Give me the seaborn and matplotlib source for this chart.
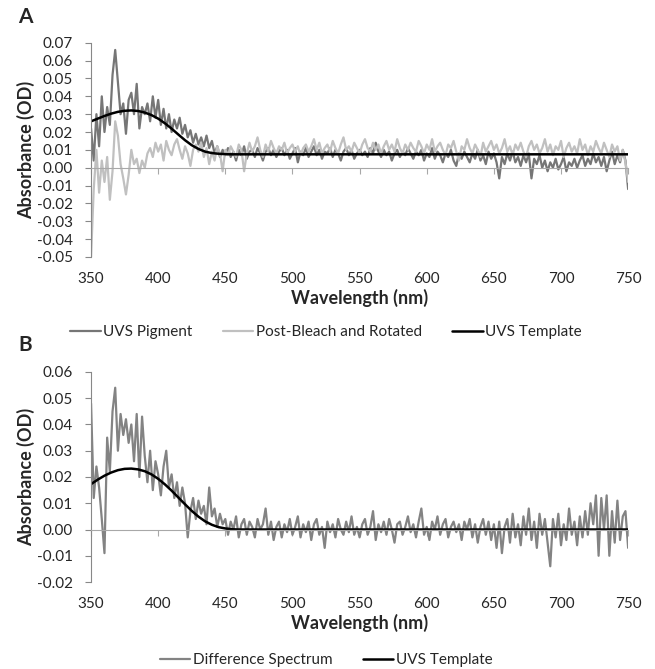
#UVS pigment absorbance spectra with seaborn
import seaborn as sns
import matplotlib.pyplot as plt
import numpy as np
import pandas as pd
from matplotlib.ticker import FormatStrFormatter

# wavelengths of the measured spectra (2 nm steps)
wavelength = list(range(350, 751, 2))

# panel A, dark grey
uvs_pigment = [
    0.022, 0.004, 0.030, 0.012, 0.040, 0.020, 0.034, 0.024, 0.052, 0.066,
    0.048, 0.030, 0.036, 0.019, 0.038, 0.042, 0.030, 0.047, 0.022, 0.034,
    0.030, 0.036, 0.026, 0.040, 0.028, 0.038, 0.024, 0.033, 0.022, 0.030,
    0.020, 0.027, 0.022, 0.028, 0.019, 0.024, 0.017, 0.021, 0.014, 0.019,
    0.013, 0.017, 0.012, 0.018, 0.011, 0.015, 0.008, 0.012, 0.006, 0.010,
    0.007, 0.011, 0.006, 0.009, 0.004, 0.010, 0.007, 0.012, 0.005, 0.009,
    0.010, 0.006, 0.011, 0.008, 0.004, 0.009, 0.011, 0.007, 0.010, 0.006,
    0.009, 0.011, 0.007, 0.010, 0.005, 0.008, 0.011, 0.003, 0.009, 0.007,
    0.011, 0.006, 0.009, 0.012, 0.007, 0.010, 0.005, 0.009, 0.008, 0.011,
    0.006, 0.010, 0.008, 0.004, 0.009, 0.011, 0.007, 0.010, 0.005, 0.008,
    0.010, 0.007, 0.009, 0.006, 0.011, 0.008, 0.014, 0.009, 0.006, 0.010,
    0.007, 0.009, 0.004, 0.008, 0.010, 0.006, 0.009, 0.007, 0.011, 0.008,
    0.005, 0.009, 0.007, 0.010, 0.004, 0.008, 0.006, 0.011, 0.005, 0.009,
    0.007, 0.003, 0.008, 0.006, 0.010, 0.004, 0.001, 0.008, 0.005, 0.009,
    0.006, 0.003, 0.008, 0.005, 0.010, 0.004, 0.007, 0.002, 0.009, 0.005,
    0.008, 0.003, -0.006, 0.006, 0.002, 0.008, 0.004, 0.009, 0.003, 0.006,
    0.001, 0.007, 0.003, 0.008, -0.006, 0.005, 0.002, 0.007, 0.000, 0.004,
    -0.002, 0.003, 0.000, 0.005, -0.001, 0.002, 0.006, -0.002, 0.003, 0.001,
    0.005, 0.000, 0.004, 0.007, 0.001, 0.005, 0.002, 0.008, 0.003, 0.006,
    0.001, 0.006, -0.002, 0.004, 0.009, 0.002, 0.007, 0.003, 0.010, 0.004,
    -0.012]

# panel A, light grey
post_bleach = [
    -0.050, -0.012, 0.010, -0.014, 0.004, -0.008, 0.006, -0.018, -0.002, 0.026,
    0.018, 0.002, -0.006, -0.015, -0.004, 0.010, 0.002, 0.005, -0.003, 0.004,
    0.000, 0.008, 0.011, 0.006, 0.014, 0.009, 0.013, 0.004, 0.015, 0.010,
    0.007, 0.013, 0.016, 0.010, 0.005, 0.012, 0.008, 0.001, 0.010, 0.013,
    0.009, 0.014, 0.006, 0.011, 0.002, 0.009, 0.004, 0.012, 0.008, -0.002,
    0.010, 0.007, 0.012, 0.009, 0.006, 0.013, 0.010, -0.002, 0.008, 0.014,
    0.009, 0.012, 0.017, 0.010, 0.006, 0.013, 0.009, 0.015, 0.011, 0.008,
    0.012, 0.010, 0.014, 0.008, 0.011, 0.013, 0.009, 0.012, 0.007, 0.011,
    0.013, 0.009, 0.012, 0.016, 0.010, 0.014, 0.008, 0.011, 0.013, 0.009,
    0.015, 0.011, 0.008, 0.013, 0.017, 0.010, 0.012, 0.009, 0.014, 0.011,
    0.008, 0.013, 0.016, 0.011, 0.009, 0.014, 0.010, 0.013, 0.008, 0.012,
    0.015, 0.010, 0.013, 0.009, 0.016, 0.011, 0.008, 0.013, 0.010, 0.014,
    0.011, 0.009, 0.015, 0.012, 0.008, 0.013, 0.010, 0.016, 0.009, 0.012,
    0.014, 0.010, 0.007, 0.013, 0.011, 0.015, 0.009, 0.004, 0.012, 0.010,
    0.016, 0.011, 0.008, 0.013, 0.010, 0.006, 0.014, 0.009, 0.012, 0.015,
    0.010, 0.013, 0.008, 0.011, 0.016, 0.009, 0.012, 0.007, 0.013, 0.010,
    0.014, 0.009, 0.006, 0.012, 0.015, 0.010, 0.013, 0.008, 0.011, 0.016,
    0.009, 0.013, 0.007, 0.012, 0.010, 0.015, 0.006, 0.011, 0.014, 0.009,
    0.012, 0.008, 0.016, 0.010, 0.013, 0.007, 0.012, 0.009, 0.015, 0.011,
    0.008, 0.014, 0.010, 0.006, 0.013, 0.009, 0.012, 0.004, 0.010, 0.003,
    -0.008]

# panel B
difference = [
    0.048, 0.012, 0.024, 0.016, 0.004, -0.009, 0.035, 0.022, 0.045, 0.054,
    0.030, 0.044, 0.036, 0.042, 0.033, 0.040, 0.026, 0.044, 0.020, 0.043,
    0.028, 0.018, 0.030, 0.015, 0.026, 0.021, 0.013, 0.024, 0.030, 0.016,
    0.021, 0.012, 0.018, 0.009, 0.016, 0.010, -0.003, 0.007, 0.012, 0.004,
    0.011, 0.006, 0.009, 0.002, 0.016, 0.005, 0.008, 0.001, 0.006, 0.002,
    0.004, -0.002, 0.003, 0.000, 0.005, -0.003, 0.002, 0.004, -0.002, 0.003,
    0.001, -0.003, 0.004, 0.000, 0.002, 0.008, -0.002, 0.003, -0.004, 0.001,
    0.003, -0.003, 0.002, -0.001, 0.004, -0.002, 0.001, 0.005, -0.003, 0.002,
    -0.001, 0.003, -0.004, 0.002, 0.004, -0.002, 0.001, -0.007, 0.003, -0.001,
    0.002, -0.003, 0.004, 0.000, -0.002, 0.003, -0.001, 0.005, -0.002, 0.001,
    -0.003, 0.002, 0.004, -0.002, 0.001, 0.007, -0.004, 0.002, -0.001, 0.003,
    -0.002, 0.004, 0.000, -0.005, 0.002, 0.003, -0.002, 0.001, 0.005, -0.001,
    0.002, -0.003, 0.003, 0.008, -0.002, 0.001, -0.004, 0.003, 0.000, 0.005,
    -0.002, 0.002, 0.004, -0.003, 0.001, 0.003, -0.001, 0.002, -0.004, 0.003,
    0.000, 0.004, -0.003, 0.002, -0.005, 0.001, 0.004, -0.002, 0.003, -0.004,
    0.002, -0.007, 0.003, -0.009, 0.001, 0.004, -0.005, 0.006, -0.003, 0.002,
    -0.006, 0.005, -0.002, 0.008, -0.004, 0.003, -0.007, 0.006, -0.002, 0.004,
    -0.005, -0.014, 0.004, -0.003, 0.006, -0.006, 0.002, -0.004, 0.008, -0.002,
    0.003, -0.006, 0.005, -0.003, 0.007, -0.002, 0.010, 0.002, 0.013, -0.010,
    0.012, 0.000, 0.013, -0.010, 0.007, -0.005, 0.011, -0.004, 0.005, 0.007,
    -0.007]

# smooth template curves
template_nm = [350, 355, 360, 365, 370, 375, 380, 385, 390, 395, 400, 405,
               410, 415, 420, 425, 430, 435, 440, 445, 450, 455, 460, 750]
template_a = [0.0260, 0.0275, 0.0290, 0.0303, 0.0313, 0.0319, 0.0321, 0.0318,
              0.0309, 0.0295, 0.0275, 0.0249, 0.0219, 0.0186, 0.0154, 0.0126,
              0.0105, 0.0090, 0.0082, 0.0078, 0.0076, 0.0075, 0.0075, 0.0075]
template_b = [0.0173, 0.0190, 0.0205, 0.0217, 0.0226, 0.0231, 0.0232, 0.0229,
              0.0222, 0.0210, 0.0193, 0.0172, 0.0148, 0.0122, 0.0096, 0.0071,
              0.0049, 0.0031, 0.0018, 0.0009, 0.0004, 0.0001, 0.0000, 0.0000]

df_a = pd.DataFrame({'nm': wavelength, 'pigment': uvs_pigment, 'bleach': post_bleach})
df_b = pd.DataFrame({'nm': wavelength, 'diff': difference})
df_t = pd.DataFrame({'nm': template_nm, 'a': template_a, 'b': template_b})

sns.set_style('white')
plt.rcParams['font.family'] = ['Lato', 'DejaVu Sans']
plt.rcParams['axes.unicode_minus'] = False

fig = plt.figure(figsize=(6.55, 6.69), dpi=100)
ax1 = fig.add_axes([0.139, 0.616, 0.820, 0.320])
ax2 = fig.add_axes([0.139, 0.130, 0.820, 0.314])

sns.lineplot(data=df_a, x='nm', y='pigment', ax=ax1, color='#767676', lw=1.6,
             label='UVS Pigment', estimator=None)
sns.lineplot(data=df_a, x='nm', y='bleach', ax=ax1, color='#c0c0c0', lw=1.6,
             label='Post-Bleach and Rotated', estimator=None)
sns.lineplot(data=df_t, x='nm', y='a', ax=ax1, color='black', lw=1.8,
             label='UVS Template', estimator=None)

sns.lineplot(data=df_b, x='nm', y='diff', ax=ax2, color='#838383', lw=1.6,
             label='Difference Spectrum', estimator=None)
sns.lineplot(data=df_t, x='nm', y='b', ax=ax2, color='black', lw=1.8,
             label='UVS Template', estimator=None)


def style(ax, ymin, ymax):
    ax.set_xlim(350, 750)
    ax.set_ylim(ymin, ymax)
    ax.set_yticks(np.round(np.arange(ymin, ymax + 0.001, 0.01), 2))
    ax.yaxis.set_major_formatter(FormatStrFormatter('%.2f'))
    ax.set_xticks(range(350, 751, 50))
    for s in ['top', 'right']:
        ax.spines[s].set_visible(False)
    ax.spines['left'].set_color('#888888')
    ax.spines['bottom'].set_position(('data', 0))
    ax.spines['bottom'].set_color('#a8a8a8')
    ax.tick_params(axis='x', bottom=True, length=4, color='#a8a8a8',
                   labelbottom=False, direction='out')
    ax.tick_params(axis='y', left=True, length=4, color='#888888',
                   labelsize=11, pad=9, direction='out')
    ax.set_xlabel('')
    ax.set_ylabel('Absorbance (OD)', fontsize=13, fontweight='bold')
    ax.yaxis.set_label_coords(-0.105, 0.5)
    sec = ax.secondary_xaxis('bottom')
    sec.set_xticks(range(350, 751, 50))
    sec.spines['bottom'].set_visible(False)
    sec.tick_params(length=0, labelsize=11, pad=11)
    sec.set_xlabel('Wavelength (nm)', fontsize=13, fontweight='bold', labelpad=2)
    h, l = ax.get_legend_handles_labels()
    ax.get_legend().remove()
    return h, l


h1, l1 = style(ax1, -0.05, 0.07)
h2, l2 = style(ax2, -0.02, 0.06)

fig.legend(h1, l1, loc='center', bbox_to_anchor=(326 / 655, 1 - 332 / 669),
           ncol=3, frameon=False, fontsize=11, handlelength=2.0,
           handletextpad=0.15, columnspacing=2.0)
fig.legend(h2, l2, loc='center', bbox_to_anchor=(326 / 655, 1 - 660 / 669),
           ncol=2, frameon=False, fontsize=11, handlelength=2.0,
           handletextpad=0.15, columnspacing=2.0)

fig.text(25 / 655, 1 - 17 / 669, 'A', fontsize=15, fontweight='bold', ha='center', va='center')
fig.text(25 / 655, 1 - 345 / 669, 'B', fontsize=15, fontweight='bold', ha='center', va='center')

plt.savefig('out.png', dpi=100)
